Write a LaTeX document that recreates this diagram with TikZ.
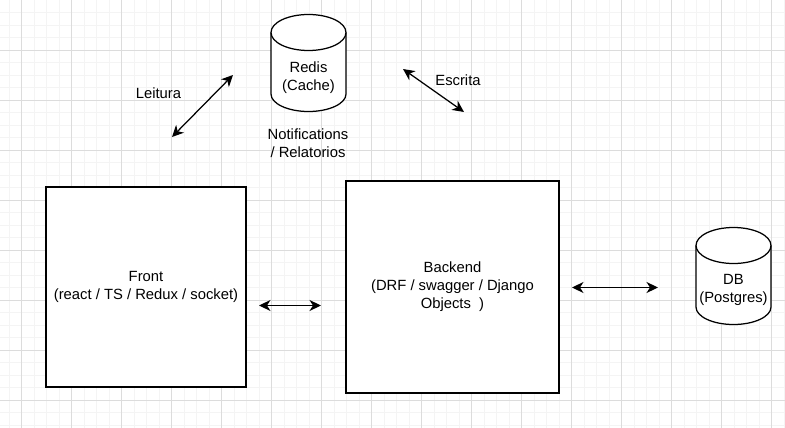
\documentclass[tikz,border=0pt]{standalone}
\usepackage{fontspec}
\setmainfont{Liberation Sans}
\usetikzlibrary{arrows.meta}
\definecolor{gridminor}{HTML}{F4F4F4}
\definecolor{gridmajor}{HTML}{DCDCDC}

\begin{document}
\begin{tikzpicture}
      [x=1pt, y=-1pt,
      font=\fontsize{14.8}{18}\selectfont,
      box style/.style={draw, line width=1.25pt, fill=white, rectangle, align=center, inner sep=0pt},
      text style/.style={align=center, inner sep=0pt},
      link style/.style={line width=1.25pt, {Stealth[length=11.5pt, width=11pt, inset=3.5pt]}-{Stealth[length=11.5pt, width=11pt, inset=3.5pt]}},
      db shape/.pic={
        \filldraw[line width=1.25pt, fill=white] (-37.5,-30.5) -- (-37.5,31)
          arc[start angle=180, end angle=360, x radius=37.5pt, y radius=17.5pt]
          -- (37.5,-30.5)
          arc[start angle=0, end angle=180, x radius=37.5pt, y radius=18pt] -- cycle;
        \draw[line width=1.25pt] (-37.5,-30.5)
          arc[start angle=180, end angle=360, x radius=37.5pt, y radius=18pt];
      }
      ]
    \useasboundingbox (0,0) rectangle (785,428);

    % grid
    \foreach \i in {0,...,62}
      \draw[gridminor, line width=0.8pt] (9.2+12.5*\i,0) -- (9.2+12.5*\i,428);
    \foreach \i in {1,...,34}
      \draw[gridminor, line width=0.8pt] (0,12.5*\i) -- (785,12.5*\i);
    \foreach \i in {0,...,15}
      \draw[gridmajor, line width=0.8pt] (21.7+50*\i,0) -- (21.7+50*\i,428);
    \foreach \i in {1,...,8}
      \draw[gridmajor, line width=0.8pt] (0,50*\i) -- (785,50*\i);

    % blocks
    \node[box style, minimum width=200pt, minimum height=200pt] (front) at (146,287)
      {Front\\(react / TS / Redux / socket)};
    \node[box style, minimum width=213pt, minimum height=212pt] (backend) at (452.5,287)
      {Backend\\(DRF / swagger / Django\\Objects\ \ )};

    % databases
    \pic at (308.5,63) {db shape};
    \node[text style] (redis) at (308.5,78) {Redis\\(Cache)};
    \pic at (733.5,276) {db shape};
    \node[text style] (db) at (733.5,290) {DB\\(Postgres)};

    % labels
    \node[text style] (leitura) at (158.5,93) {Leitura};
    \node[text style] (escrita) at (458,80) {Escrita};
    \node[text style] (notes) at (308,143) {Notifications\\/ Relatorios};

    % arrows
    \coordinate (read a) at (172,137);
    \coordinate (read b) at (233,75);
    \coordinate (write a) at (403,69);
    \coordinate (write b) at (464,112);
    \coordinate (api a) at (259,305.5);
    \coordinate (api b) at (321,305.5);
    \coordinate (sql a) at (572,287.5);
    \coordinate (sql b) at (658,287.5);
    \draw[link style] (read a) -- (read b);
    \draw[link style] (write a) -- (write b);
    \draw[link style] (api a) -- (api b);
    \draw[link style] (sql a) -- (sql b);
\end{tikzpicture}
\end{document}
